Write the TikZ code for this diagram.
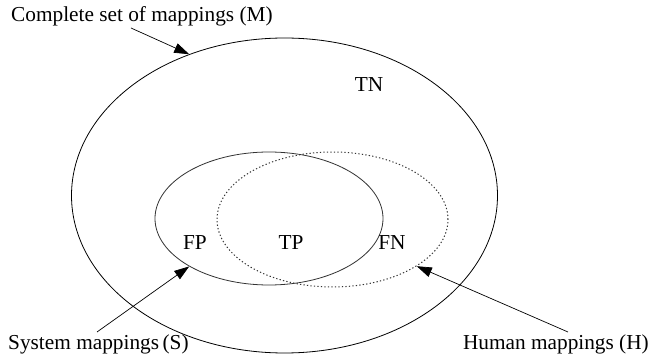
\documentclass[tikz,border=0pt]{standalone}
\usepackage{fontspec}
\setmainfont{Liberation Serif}
\usetikzlibrary{shapes.geometric,arrows.meta}
\begin{document}
\begin{tikzpicture}[x=1pt,y=-1pt,
  lbl/.style={inner sep=0pt,font=\fontsize{21.3}{24}\selectfont},
  arr/.style={-{Triangle[length=15pt,width=10pt]},line width=0.7pt},
  setline/.style={draw,ellipse,inner sep=0pt,line width=0.8pt}]
\useasboundingbox (0,0) rectangle (651,363);
% ellipses
\node[setline,minimum width=426pt,minimum height=315pt] (M) at (284.5,195.5) {};
\node[setline,draw=black!80,minimum width=228pt,minimum height=133pt] (S) at (269,218.5) {};
\node[setline,draw=black!80,dash pattern=on 1.3pt off 2.2pt,line width=1pt,minimum width=231pt,minimum height=135pt] (H) at (332.5,219.5) {};
% region labels
\node[lbl,anchor=base] (TN) at (369,92) {TN};
\node[lbl,anchor=base] (FP) at (195,250) {FP};
\node[lbl,anchor=base] (TP) at (291,250) {TP};
\node[lbl,anchor=base] (FN) at (392,250) {FN};
% set labels
\node[lbl,anchor=base west] (Mlab) at (11,22) {Complete set of mappings (M)};
\node[lbl,anchor=base west] (Slab) at (8,350) {System mappings\,(S)};
\node[lbl,anchor=base east] (Hlab) at (649,350) {Human mappings (H)};
% arrows
\coordinate (Ms) at (131,28);
\coordinate (Ss) at (97,332);
\coordinate (Hs) at (568,332);
\draw[arr] (Ms) -- (M.124);
\draw[arr] (Ss) -- (S.211);
\draw[arr] (Hs) -- (H.331);
\end{tikzpicture}
\end{document}
